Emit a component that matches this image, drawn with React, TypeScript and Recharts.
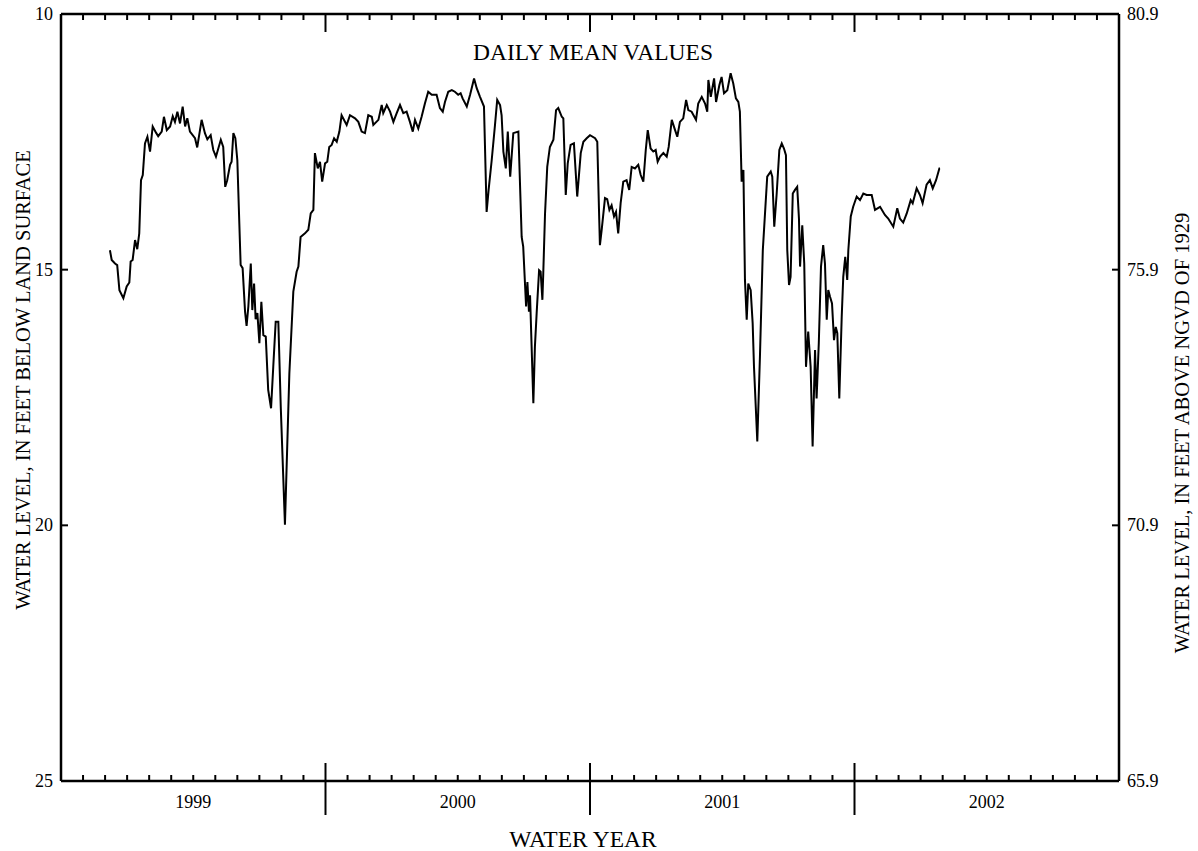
import { LineChart, Line, XAxis, YAxis } from 'recharts'

// months since 1 Oct 1998 (start of water year 1999), depth in feet below land surface
const wy1999: [number, number][] = [
  [2.22, 14.62], [2.3, 14.81], [2.45, 14.88], [2.55, 14.91], [2.65, 15.4], [2.83, 15.56], [2.98, 15.33],
  [3.1, 15.25], [3.16, 14.84], [3.25, 14.81], [3.36, 14.42], [3.46, 14.6], [3.55, 14.29], [3.63, 13.25],
  [3.71, 13.15], [3.81, 12.53], [3.92, 12.4], [4.04, 12.69], [4.16, 12.2], [4.31, 12.32], [4.41, 12.39],
  [4.57, 12.3], [4.67, 12.01], [4.8, 12.27], [4.95, 12.2], [5.07, 12.0], [5.17, 12.11], [5.28, 11.91],
  [5.4, 12.14], [5.52, 11.81], [5.63, 12.2], [5.73, 12.04], [5.85, 12.3], [6.08, 12.43], [6.18, 12.61],
  [6.38, 12.07], [6.53, 12.33], [6.64, 12.45], [6.79, 12.37], [6.91, 12.66], [7.03, 12.79], [7.25, 12.46],
  [7.36, 12.6], [7.45, 13.38], [7.54, 13.25], [7.67, 12.95], [7.74, 12.89], [7.82, 12.33], [7.91, 12.43],
  [8.0, 12.86], [8.15, 14.91], [8.24, 14.97], [8.35, 15.82], [8.42, 16.1], [8.5, 15.72], [8.61, 14.88],
  [8.68, 15.79], [8.76, 15.27], [8.83, 15.97], [8.91, 15.85], [9.0, 16.44], [9.09, 15.63], [9.18, 16.28],
  [9.29, 16.31], [9.4, 17.35], [9.53, 17.71], [9.63, 16.9], [9.74, 16.02], [9.86, 16.02], [9.97, 17.68],
  [10.16, 19.99], [10.36, 17.03], [10.54, 15.43], [10.69, 15.04], [10.77, 14.94], [10.87, 14.36],
  [11.07, 14.29], [11.22, 14.22], [11.33, 13.9], [11.45, 13.83], [11.52, 12.72], [11.65, 13.02],
  [11.75, 12.89], [11.85, 13.28], [11.98, 12.92],
]

const wy2000: [number, number][] = [
  [12.08, 12.89], [12.17, 12.6], [12.28, 12.56], [12.39, 12.43], [12.51, 12.5], [12.63, 12.3], [12.73, 11.98],
  [12.96, 12.17], [13.11, 11.98], [13.34, 12.04], [13.49, 12.11], [13.64, 12.3], [13.79, 12.33], [13.94, 11.98],
  [14.1, 12.01], [14.17, 12.17], [14.4, 12.07], [14.55, 11.78], [14.62, 11.94], [14.78, 11.78], [14.93, 11.91],
  [15.08, 12.11], [15.23, 11.94], [15.38, 11.78], [15.53, 11.94], [15.68, 11.91], [15.83, 12.11], [15.96, 12.3],
  [16.06, 12.07], [16.21, 12.24], [16.36, 12.01], [16.51, 11.75], [16.66, 11.52], [16.82, 11.58], [17.04, 11.58],
  [17.19, 11.84], [17.32, 11.91], [17.42, 11.72], [17.57, 11.52], [17.73, 11.49], [17.87, 11.52], [18.02, 11.58],
  [18.13, 11.55], [18.22, 11.65], [18.41, 11.81], [18.56, 11.58], [18.74, 11.26], [18.86, 11.45], [19.01, 11.62],
  [19.19, 11.81], [19.31, 13.87], [19.4, 13.44], [19.54, 12.86], [19.69, 12.17], [19.79, 11.68], [19.92, 11.78],
  [19.99, 11.98], [20.07, 12.69], [20.18, 13.02], [20.27, 12.3], [20.38, 13.18], [20.52, 12.33], [20.75, 12.3],
  [20.9, 14.36], [20.97, 14.55], [21.1, 15.72], [21.16, 15.24], [21.23, 15.82], [21.28, 15.5], [21.43, 17.61],
  [21.5, 16.51], [21.58, 15.85], [21.69, 15.01], [21.76, 15.04], [21.84, 15.59], [21.88, 15.07], [21.96, 13.9],
  [22.06, 12.99], [22.18, 12.6], [22.34, 12.46], [22.46, 11.88], [22.56, 11.84], [22.72, 12.01], [22.79, 12.04],
  [22.9, 13.54], [22.99, 12.92], [23.12, 12.56], [23.27, 12.53], [23.42, 13.57], [23.58, 12.72], [23.7, 12.5],
  [23.85, 12.43], [24.0, 12.37], [24.23, 12.43], [24.33, 12.5],
]

const wy2001: [number, number][] = [
  [24.42, 14.03], [24.45, 14.52], [24.53, 14.22], [24.68, 13.6], [24.78, 13.62], [24.88, 13.83], [24.98, 13.74],
  [25.09, 13.96], [25.18, 13.87], [25.28, 14.29], [25.39, 13.7], [25.51, 13.28], [25.66, 13.25], [25.78, 13.44],
  [25.89, 12.99], [26.04, 13.02], [26.19, 12.95], [26.3, 13.15], [26.42, 13.28], [26.53, 12.66], [26.62, 12.27],
  [26.75, 12.63], [26.87, 12.69], [26.98, 12.66], [27.07, 12.89], [27.18, 12.79], [27.33, 12.72], [27.48, 12.79],
  [27.57, 12.6], [27.71, 12.07], [27.86, 12.27], [27.96, 12.4], [28.08, 12.11], [28.23, 12.04], [28.36, 11.68],
  [28.46, 11.88], [28.61, 11.91], [28.81, 12.07], [28.91, 11.75], [29.07, 11.62], [29.22, 11.75], [29.32, 11.91],
  [29.37, 11.29], [29.48, 11.62], [29.63, 11.26], [29.72, 11.72], [29.87, 11.39], [29.97, 11.23], [30.08, 11.55],
  [30.23, 11.49], [30.38, 11.16], [30.5, 11.36], [30.62, 11.65], [30.73, 11.72], [30.8, 11.91], [30.88, 13.28],
  [30.96, 13.05], [31.03, 15.2], [31.11, 15.98], [31.18, 15.27], [31.29, 15.4], [31.38, 16.05], [31.44, 16.9],
  [31.59, 18.36], [31.71, 16.7], [31.84, 14.62], [31.94, 13.9], [32.04, 13.18], [32.2, 13.08], [32.27, 13.18],
  [32.36, 14.16], [32.47, 13.51], [32.59, 12.66], [32.7, 12.53], [32.8, 12.63], [32.89, 12.76], [32.95, 14.62],
  [33.03, 15.3], [33.1, 15.14], [33.2, 13.51], [33.3, 13.44], [33.4, 13.38], [33.48, 14.0], [33.53, 14.94],
  [33.63, 14.13], [33.72, 14.88], [33.8, 16.9], [33.9, 16.21], [34.01, 16.9], [34.1, 18.46], [34.21, 16.57],
  [34.28, 17.52], [34.38, 16.44], [34.48, 14.94], [34.58, 14.52], [34.66, 14.88], [34.74, 15.98], [34.81, 15.4],
  [34.89, 15.53], [34.98, 15.66], [35.07, 16.38], [35.15, 16.12], [35.22, 16.24], [35.31, 17.52], [35.42, 15.92],
  [35.49, 15.14], [35.58, 14.75], [35.67, 15.2], [35.72, 14.62], [35.83, 13.96], [35.94, 13.77],
]

const wy2002: [number, number][] = [
  [36.1, 13.57], [36.25, 13.64], [36.4, 13.51], [36.55, 13.54], [36.78, 13.54], [36.93, 13.83], [37.16, 13.77],
  [37.38, 13.93], [37.53, 14.0], [37.76, 14.16], [37.94, 13.8], [38.06, 14.0], [38.21, 14.08], [38.37, 13.9],
  [38.55, 13.64], [38.64, 13.7], [38.82, 13.41], [38.97, 13.54], [39.09, 13.7], [39.27, 13.34], [39.42, 13.25],
  [39.55, 13.41], [39.7, 13.25], [39.85, 13.02], [39.88, 13.02],
]

const yearLabels = ['1999', '2000', '2001', '2002']
const monthTicks = Array.from({ length: 49 }, (_, i) => i)
const depthTicks = [10, 15, 20, 25]
const elevTicks = [80.9, 75.9, 70.9, 65.9]
const landSurface = 90.9 // elevation of land surface, ft above NGVD 1929

const data = [...wy1999, ...wy2000, ...wy2001, ...wy2002].map(([m, depth]) => ({
  m,
  depth,
  elev: landSurface - depth,
}))

const FONT = '"Liberation Serif", "Times New Roman", serif'
const INK = '#000'

// layout
const W = 1198
const H = 851
const LEFT_W = 61
const RIGHT_W = 79
const TOP_H = 14
const BOTTOM_H = 70
const PLOT_W = W - LEFT_W - RIGHT_W

// bottom axis: inward month ticks, long ticks at water-year boundaries, year names centred
function MonthTick({ x, y, payload }: any) {
  const m = payload.value
  const edge = m === 0 || m === 48
  const major = m % 12 === 0
  const label = m % 12 === 6 ? yearLabels[(m - 6) / 12] : null
  return (
    <g>
      {!edge && (major
        ? <line x1={x} x2={x} y1={y - 18} y2={y + 34} stroke={INK} strokeWidth={2} />
        : <line x1={x} x2={x} y1={y} y2={y - 6} stroke={INK} strokeWidth={2} />)}
      {label && (
        <text x={x} y={y + 27} textAnchor="middle" fontFamily={FONT} fontSize={18} fill={INK}>
          {label}
        </text>
      )}
    </g>
  )
}

function LeftTick({ x, y, payload }: any) {
  const v = payload.value
  return (
    <g>
      {v !== 10 && v !== 25 && <line x1={x} x2={x + 7} y1={y} y2={y} stroke={INK} strokeWidth={2} />}
      <text x={x - 8} y={y + 6} textAnchor="end" fontFamily={FONT} fontSize={18} fill={INK}>
        {v}
      </text>
    </g>
  )
}

function RightTick({ x, y, payload }: any) {
  const v = payload.value
  const edge = v === 80.9 || v === 65.9
  return (
    <g>
      {!edge && <line x1={x} x2={x - 7} y1={y} y2={y} stroke={INK} strokeWidth={2} />}
      <text x={x + 8} y={y + 6} textAnchor="start" fontFamily={FONT} fontSize={18} fill={INK}>
        {Number(v).toFixed(1)}
      </text>
    </g>
  )
}

const axisLine = { stroke: INK, strokeWidth: 2.5 }

export default function App() {
  return (
    <div style={{ position: 'absolute', left: 0, top: 0, width: W, height: H, background: '#fff' }}>
      <LineChart width={W} height={H} data={data} margin={{ top: 0, right: 0, bottom: 0, left: 0 }}>
        <XAxis
          dataKey="m"
          type="number"
          domain={[0, 48]}
          allowDataOverflow
          ticks={monthTicks}
          interval={0}
          height={BOTTOM_H}
          tickSize={0}
          tickMargin={0}
          tickLine={false}
          axisLine={axisLine}
          tick={<MonthTick />}
        />
        <XAxis
          xAxisId="top"
          dataKey="m"
          orientation="top"
          type="number"
          domain={[0, 48]}
          allowDataOverflow
          height={TOP_H}
          tickLine={false}
          axisLine={axisLine}
          tick={false}
        />
        <YAxis
          type="number"
          reversed
          domain={[10, 25]}
          allowDataOverflow
          ticks={depthTicks}
          interval={0}
          width={LEFT_W}
          tickSize={0}
          tickMargin={0}
          tickLine={false}
          axisLine={axisLine}
          tick={<LeftTick />}
        />
        <YAxis
          yAxisId="right"
          orientation="right"
          type="number"
          domain={[65.9, 80.9]}
          allowDataOverflow
          ticks={elevTicks}
          interval={0}
          width={RIGHT_W}
          tickSize={0}
          tickMargin={0}
          tickLine={false}
          axisLine={axisLine}
          tick={<RightTick />}
        />
        {/* same record in elevation units, drawn invisibly so the top and right scales are built */}
        <Line
          xAxisId="top"
          yAxisId="right"
          type="linear"
          dataKey="elev"
          stroke="none"
          dot={false}
          activeDot={false}
          isAnimationActive={false}
        />
        <Line
          type="linear"
          dataKey="depth"
          stroke={INK}
          strokeWidth={2}
          dot={false}
          activeDot={false}
          isAnimationActive={false}
        />
      </LineChart>
      <svg width={W} height={H} style={{ position: 'absolute', left: 0, top: 0, pointerEvents: 'none' }}>
        {/* inward month ticks along the top frame */}
        {monthTicks.filter((m) => m > 0 && m < 48).map((m) => {
          const x = LEFT_W + (m / 48) * PLOT_W
          return (
            <line key={m} x1={x} x2={x} y1={TOP_H} y2={TOP_H + (m % 12 === 0 ? 18 : 6)} stroke={INK} strokeWidth={2} />
          )
        })}
        <g fontFamily={FONT} fill={INK}>
          <text x={593} y={60} textAnchor="middle" fontSize={23.5}>DAILY MEAN VALUES</text>
          <text x={583} y={H - 4} textAnchor="middle" fontSize={23.5}>WATER YEAR</text>
          <text transform="translate(30,380) rotate(-90)" textAnchor="middle" fontSize={20.5}>
            WATER LEVEL, IN FEET BELOW LAND SURFACE
          </text>
          <text transform="translate(1189,433) rotate(-90)" textAnchor="middle" fontSize={20.5}>
            WATER LEVEL, IN FEET ABOVE NGVD OF 1929
          </text>
        </g>
      </svg>
    </div>
  )
}
